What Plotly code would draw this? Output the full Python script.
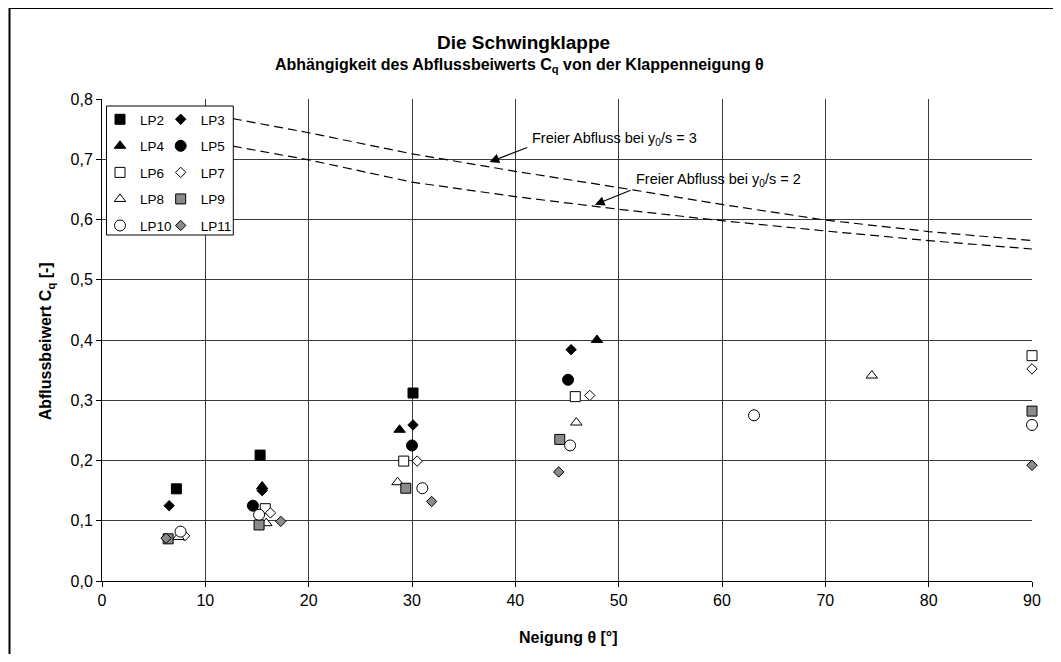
import plotly.graph_objects as go

# ---------------- data ----------------
series_names = ["LP2", "LP3", "LP4", "LP5", "LP6", "LP7", "LP8", "LP9", "LP10", "LP11"]

lp2_x = [7.2, 15.3, 30.1]
lp2_y = [0.153, 0.209, 0.312]
lp3_x = [6.5, 15.5, 30.1, 45.4]
lp3_y = [0.125, 0.150, 0.259, 0.384]
lp4_x = [15.5, 28.8, 47.9]
lp4_y = [0.157, 0.251, 0.400]
lp5_x = [14.6, 30.0, 45.1]
lp5_y = [0.125, 0.225, 0.334]
lp6_x = [15.8, 29.2, 45.8, 90.0]
lp6_y = [0.120, 0.199, 0.306, 0.374]
lp7_x = [8.0, 16.3, 30.5, 47.2, 90.0]
lp7_y = [0.075, 0.113, 0.199, 0.308, 0.352]
lp8_x = [7.4, 15.9, 28.6, 45.9, 74.5]
lp8_y = [0.073, 0.096, 0.164, 0.263, 0.341]
lp9_x = [6.4, 15.2, 29.4, 44.3, 90.0]
lp9_y = [0.070, 0.093, 0.154, 0.235, 0.282]
lp10_x = [7.6, 15.2, 31.0, 45.3, 63.1, 90.0]
lp10_y = [0.082, 0.110, 0.154, 0.225, 0.275, 0.259]
lp11_x = [6.2, 17.3, 31.9, 44.2, 90.0]
lp11_y = [0.071, 0.099, 0.132, 0.181, 0.192]

curve_theta = [10, 20, 30, 40, 50, 60, 70, 80, 90]
curve_y0s3 = [0.776, 0.744, 0.709, 0.680, 0.653, 0.625, 0.599, 0.580, 0.565]
curve_y0s2 = [0.730, 0.699, 0.662, 0.638, 0.617, 0.598, 0.581, 0.565, 0.551]

x_ticks = [0, 10, 20, 30, 40, 50, 60, 70, 80, 90]
y_ticks = [0.0, 0.1, 0.2, 0.3, 0.4, 0.5, 0.6, 0.7, 0.8]

# ---------------- styles ----------------
FONT = "Liberation Sans, Arial, sans-serif"
GRAY = "#8a8a8a"
styles = {
    "LP2": dict(symbol="square", color="black", size=10, legend="legend"),
    "LP3": dict(symbol="diamond", color="black", size=8, legend="legend2"),
    "LP4": dict(symbol="triangle-up", color="black", size=10, legend="legend"),
    "LP5": dict(symbol="circle", color="black", size=11, legend="legend2"),
    "LP6": dict(symbol="square", color="white", size=10, legend="legend"),
    "LP7": dict(symbol="diamond", color="white", size=8, legend="legend2"),
    "LP8": dict(symbol="triangle-up", color="white", size=10, legend="legend"),
    "LP9": dict(symbol="square", color=GRAY, size=10, legend="legend2"),
    "LP10": dict(symbol="circle", color="white", size=11, legend="legend"),
    "LP11": dict(symbol="diamond", color=GRAY, size=8, legend="legend2"),
}
data = {
    "LP2": (lp2_x, lp2_y), "LP3": (lp3_x, lp3_y), "LP4": (lp4_x, lp4_y),
    "LP5": (lp5_x, lp5_y), "LP6": (lp6_x, lp6_y), "LP7": (lp7_x, lp7_y),
    "LP8": (lp8_x, lp8_y), "LP9": (lp9_x, lp9_y), "LP10": (lp10_x, lp10_y),
    "LP11": (lp11_x, lp11_y),
}

fig = go.Figure()

for xs, ys in [(curve_theta, curve_y0s3), (curve_theta, curve_y0s2)]:
    fig.add_trace(go.Scatter(
        x=xs, y=ys, mode="lines", showlegend=False, hoverinfo="skip",
        line=dict(color="black", width=1.2, dash="9px,5px"),
    ))

for name in series_names:
    st = styles[name]
    xs, ys = data[name]
    fig.add_trace(go.Scatter(
        x=xs, y=ys, mode="markers", name=name, legend=st["legend"],
        legendgroup=name, cliponaxis=False,
        marker=dict(symbol=st["symbol"], color=st["color"], size=st["size"],
                    line=dict(color="black", width=1)),
    ))

# page has an 8px body margin: figure is offset by OFF
OFF = 8
W, H = 1045, 646
L, T = 102 - OFF, 99 - OFF
R = W - (1037 - OFF)
B = H - (581 - OFF)
PW, PH = W - L - R, H - T - B


def px(xp):
    """page pixel x -> paper x"""
    return (xp - OFF - L) / PW


def py(yp):
    """page pixel y -> paper y"""
    return (H - B - (yp - OFF)) / PH


legend_common = dict(
    font=dict(family=FONT, size=13.5, color="black"),
    bgcolor="rgba(0,0,0,0)", borderwidth=0,
    yanchor="top", xanchor="left", tracegroupgap=6,
    itemclick=False, itemdoubleclick=False,
)

fig.update_layout(
    width=W, height=H, autosize=False,
    margin=dict(l=L, r=R, t=T, b=B),
    paper_bgcolor="white", plot_bgcolor="white",
    separators=",.",
    font=dict(family=FONT, size=16, color="black"),
    legend=dict(x=px(100), y=py(104), **legend_common),
    legend2=dict(x=px(161), y=py(104), **legend_common),
    xaxis=dict(
        range=[0, 90], tickvals=x_ticks, ticks="outside", ticklen=5,
        tickcolor="black", showline=True, linecolor="black", linewidth=1,
        showgrid=True, gridcolor="#3a3a3a", gridwidth=1, zeroline=False,
        tickfont=dict(family=FONT, size=16), fixedrange=True,
    ),
    yaxis=dict(
        range=[0, 0.8], tickvals=y_ticks, tickformat=".1f", ticks="outside",
        ticklen=5, tickcolor="black", showline=True, linecolor="black",
        linewidth=1, showgrid=True, gridcolor="#3a3a3a", gridwidth=1,
        zeroline=False, tickfont=dict(family=FONT, size=16), fixedrange=True,
    ),
    showlegend=True,
)

annotations = [
    dict(text="<b>Die Schwingklappe</b>", x=px(526), y=py(43), xref="paper", yref="paper",
         showarrow=False, font=dict(family=FONT, size=19), xanchor="center", yanchor="middle"),
    dict(text="<b>Abhängigkeit des Abflussbeiwerts C<sub>q</sub> von der Klappenneigung θ</b>",
         x=px(522), y=py(65), xref="paper", yref="paper", showarrow=False,
         font=dict(family=FONT, size=16), xanchor="center", yanchor="middle"),
    dict(text="<b>Abflussbeiwert C<sub>q</sub> [-]</b>", x=px(46), y=py(341), xref="paper",
         yref="paper", showarrow=False, textangle=-90,
         font=dict(family=FONT, size=16), xanchor="center", yanchor="middle"),
    dict(text="<b>Neigung θ [°]</b>", x=px(571), y=py(637), xref="paper", yref="paper",
         showarrow=False, font=dict(family=FONT, size=16), xanchor="center", yanchor="middle"),
    dict(text="Freier Abfluss bei y<sub>0</sub>/s = 3", x=41.4, y=0.734, xref="x", yref="y",
         showarrow=False, font=dict(family=FONT, size=14.5), xanchor="left", yanchor="middle"),
    dict(text="Freier Abfluss bei y<sub>0</sub>/s = 2", x=51.5, y=0.665, xref="x", yref="y",
         showarrow=False, font=dict(family=FONT, size=14.5), xanchor="left", yanchor="middle"),
    dict(text="", x=37.5, y=0.6955, ax=41.3, ay=0.7204, xref="x", yref="y", axref="x",
         ayref="y", showarrow=True, arrowhead=2, arrowsize=1.6, arrowwidth=1.2,
         arrowcolor="black"),
    dict(text="", x=47.7, y=0.6246, ax=51.3, ay=0.6495, xref="x", yref="y", axref="x",
         ayref="y", showarrow=True, arrowhead=2, arrowsize=1.6, arrowwidth=1.2,
         arrowcolor="black"),
]
fig.update_layout(annotations=annotations)

shapes = [
    # legend box (opaque, covers curves and gridlines)
    dict(type="rect", xref="paper", yref="paper", x0=px(106.5), x1=px(234), y0=py(235),
         y1=py(106), line=dict(color="black", width=1), fillcolor="white",
         layer="above"),
    # outer chart border (left and top)
    dict(type="line", xref="paper", yref="paper", x0=px(9), x1=px(9), y0=py(8), y1=py(700),
         line=dict(color="black", width=2)),
    dict(type="line", xref="paper", yref="paper", x0=px(9), x1=px(1100), y0=py(8), y1=py(8),
         line=dict(color="black", width=2)),
]
fig.update_layout(shapes=shapes)

fig.write_html("out.html")
